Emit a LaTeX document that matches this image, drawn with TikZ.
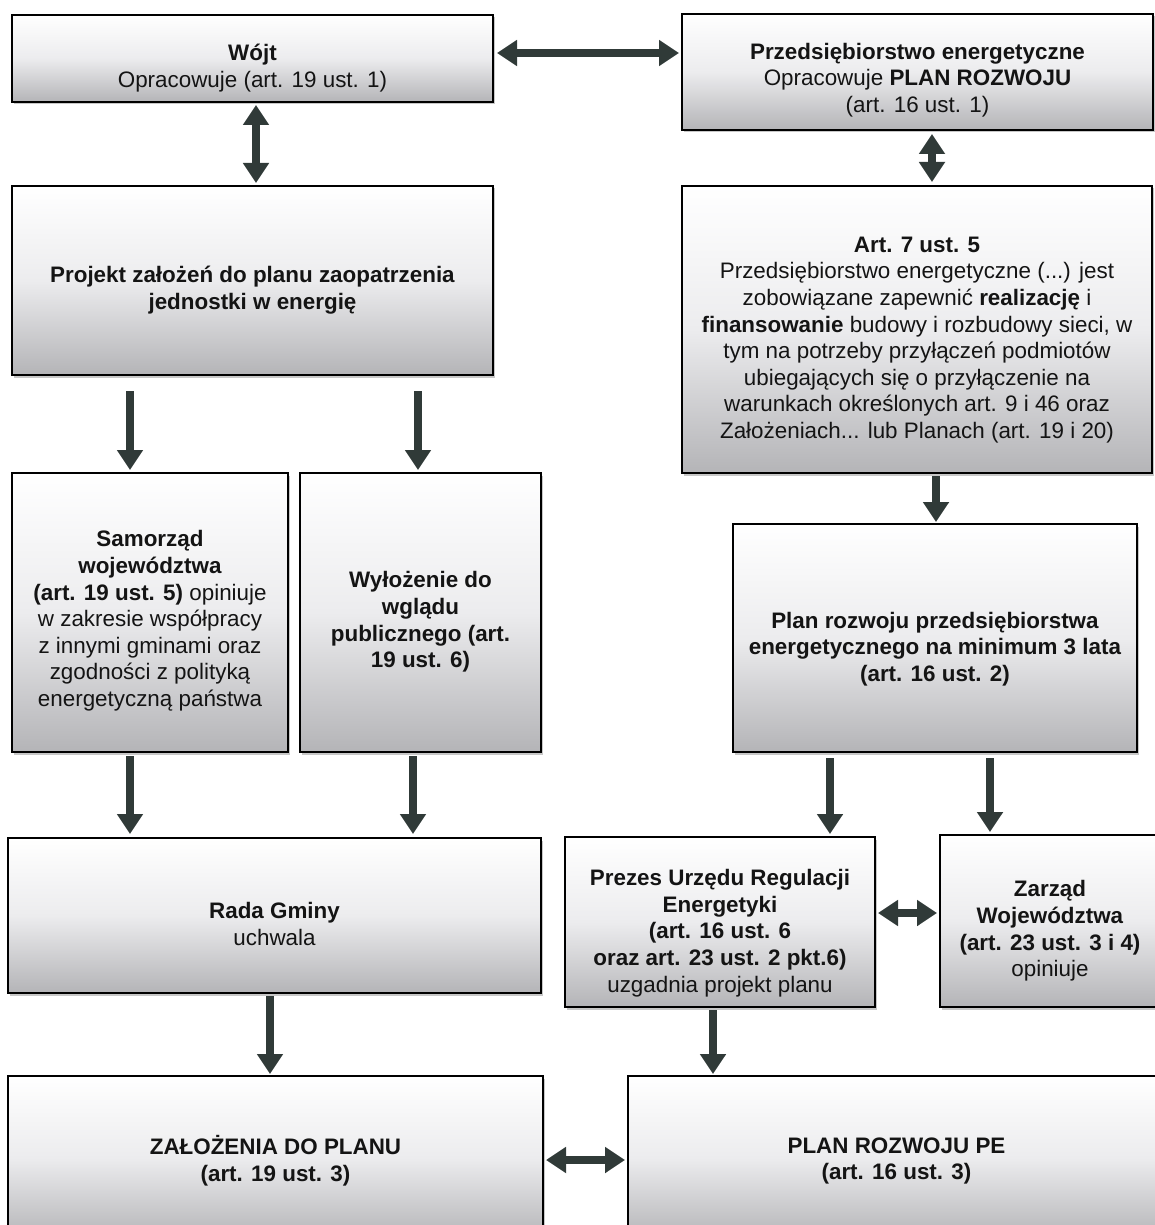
\documentclass[tikz,border=0pt]{standalone}
\usepackage{fontspec}
\setmainfont{Liberation Sans}
\usetikzlibrary{arrows.meta,shadows}
\definecolor{arrc}{RGB}{48,58,56}
\definecolor{boxbot}{RGB}{180,180,183}
\definecolor{boxmid}{RGB}{236,236,238}
\tikzset{
  box/.style={draw=black, line width=2pt, rectangle, inner sep=0pt,
    top color=white, bottom color=boxbot, middle color=boxmid,
    drop shadow={shadow xshift=1.5pt, shadow yshift=-2.5pt, fill=black, opacity=0.22}},
  lbl/.style={inner sep=0pt, align=center, font=\fontsize{22.4}{26.6}\selectfont, text=black!92},
  arr/.style={draw=arrc, line width=8pt, -{Triangle[width=25pt,length=20pt]}},
  darr/.style={draw=arrc, line width=8pt, {Triangle[width=25pt,length=20pt]}-{Triangle[width=25pt,length=20pt]}},
}
\newcommand\mkbox[5]{\node[box, minimum width=#4pt, minimum height=#5pt] (#1) at (#2,#3) {};}
\begin{document}
\begin{tikzpicture}[x=1pt,y=-1pt]
\useasboundingbox (0,0) rectangle (1155,1225);
\fill[white] (0,0) rectangle (1155,1225);
\clip (0,0) rectangle (1155,1225);
% boxes
\mkbox{wojt}{252.5}{58.5}{481}{87}
\mkbox{przed}{917.5}{72}{471}{116}
\mkbox{proj}{252.5}{280.5}{481}{189}
\mkbox{art7}{917}{329.5}{470}{287}
\mkbox{samo}{150}{612.5}{276}{279}
\mkbox{wyl}{420.5}{612.5}{241}{279}
\mkbox{planr}{935}{638}{404}{228}
\mkbox{rada}{274.5}{915.5}{533}{155}
\mkbox{prezes}{720}{922}{310}{170}
\mkbox{zarzad}{1050}{921}{220}{172}
\mkbox{zal}{275.5}{1158}{535}{164}
\mkbox{planpe}{896.5}{1158}{537}{164}
% labels
\node[lbl] (twojt) at (252.5,68) {\textbf{Wójt}\\Opracowuje (art. 19 ust. 1)};
\node[lbl] (tprzed) at (917.5,80) {\textbf{Przedsiębiorstwo energetyczne}\\Opracowuje \textbf{PLAN ROZWOJU}\\(art. 16 ust. 1)};
\node[lbl] (tproj) at (252.5,290) {\textbf{Projekt założeń do planu zaopatrzenia}\\\textbf{jednostki w energię}};
\node[lbl] (tart7) at (917,340) {\textbf{Art. 7 ust. 5}\\Przedsiębiorstwo energetyczne (...) jest\\zobowiązane zapewnić \textbf{realizację} i\\\textbf{finansowanie} budowy i rozbudowy sieci, w\\tym na potrzeby przyłączeń podmiotów\\ubiegających się o przyłączenie na\\warunkach określonych art. 9 i 46 oraz\\Założeniach... lub Planach (art. 19 i 20)};
\node[lbl] (tsamo) at (150,621) {\textbf{Samorząd}\\\textbf{województwa}\\\textbf{(art. 19 ust. 5)} opiniuje\\w zakresie współpracy\\z innymi gminami oraz\\zgodności z polityką\\energetyczną państwa};
\node[lbl] (twyl) at (420.5,622) {\textbf{Wyłożenie do}\\\textbf{wglądu}\\\textbf{publicznego (art.}\\\textbf{19 ust. 6)}};
\node[lbl] (tplanr) at (935,649) {\textbf{Plan rozwoju przedsiębiorstwa}\\\textbf{energetycznego na minimum 3 lata}\\\textbf{(art. 16 ust. 2)}};
\node[lbl] (trada) at (274.5,924) {\textbf{Rada Gminy}\\uchwala};
\node[lbl] (tprezes) at (720,933) {\textbf{Prezes Urzędu Regulacji}\\\textbf{Energetyki}\\\textbf{(art. 16 ust. 6}\\\textbf{oraz art. 23 ust. 2 pkt.6)}\\uzgadnia projekt planu};
\node[lbl] (tzarzad) at (1050,931) {\textbf{Zarząd}\\\textbf{Województwa}\\\textbf{(art. 23 ust. 3 i 4)}\\opiniuje};
\node[lbl] (tzal) at (275.5,1161) {\textbf{ZAŁOŻENIA DO PLANU}\\\textbf{(art. 19 ust. 3)}};
\node[lbl] (tplanpe) at (896.5,1161) {\textbf{PLAN ROZWOJU PE}\\\textbf{(art. 16 ust. 3)}};
% connectors
\draw[darr, shorten <=3pt, shorten >=2pt] ([yshift=5.5pt]wojt.east) -- ([yshift=19pt]przed.west);
\draw[darr, shorten <=2pt, shorten >=2pt] ([xshift=3.5pt]wojt.south) -- ([xshift=3.5pt]proj.north);
\draw[darr, shorten <=3pt, shorten >=3pt] ([xshift=14.5pt]przed.south) -- ([xshift=15pt]art7.north);
\draw[arr, shorten <=15pt, shorten >=2pt] ([xshift=-122.5pt]proj.south) -- ([xshift=-20pt]samo.north);
\draw[arr, shorten <=15pt, shorten >=2pt] ([xshift=165.5pt]proj.south) -- ([xshift=-2.5pt]wyl.north);
\draw[arr, shorten <=2pt, shorten >=1pt] ([xshift=19pt]art7.south) -- ([xshift=1pt]planr.north);
\draw[arr, shorten <=3pt, shorten >=3pt] ([xshift=-20pt]samo.south) -- ([xshift=-144.5pt]rada.north);
\draw[arr, shorten <=3pt, shorten >=3pt] ([xshift=-7.5pt]wyl.south) -- ([xshift=138.5pt]rada.north);
\draw[arr, shorten <=5pt, shorten >=2pt] ([xshift=-105pt]planr.south) -- ([xshift=110pt]prezes.north);
\draw[arr, shorten <=5pt, shorten >=2pt] ([xshift=55pt]planr.south) -- ([xshift=-60pt]zarzad.north);
\draw[darr, shorten <=2pt, shorten >=2pt] ([yshift=9pt]prezes.east) -- ([yshift=8pt]zarzad.west);
\draw[arr, shorten <=2pt, shorten >=1pt] ([xshift=-4.5pt]rada.south) -- ([xshift=-5.5pt]zal.north);
\draw[arr, shorten <=2pt, shorten >=1pt] ([xshift=-7pt]prezes.south) -- ([xshift=-183.5pt]planpe.north);
\draw[darr, shorten <=2pt, shorten >=2pt] ([yshift=-2pt]zal.east) -- ([yshift=-2pt]planpe.west);
\end{tikzpicture}
\end{document}
